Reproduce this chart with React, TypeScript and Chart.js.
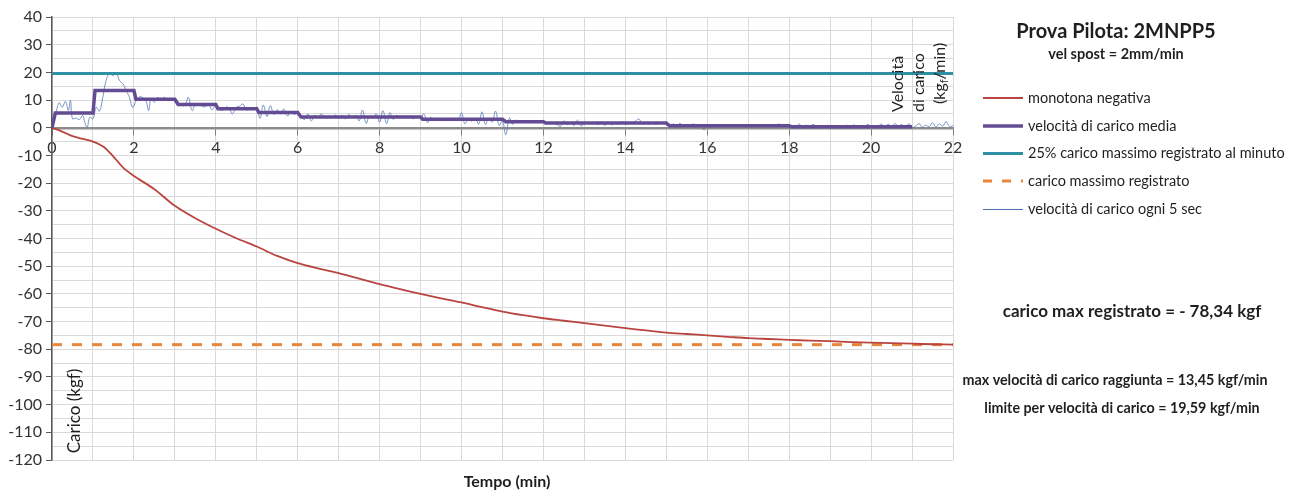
import React, { useEffect, useRef } from "react";
import { Chart, registerables } from "chart.js";

Chart.register(...registerables);

const FONT = "Lato, 'Open Sans', sans-serif";

// ---- data ----
const loadTimes = [0, 0.25, 0.5, 0.75, 1, 1.25, 1.5, 1.75, 2, 2.5, 3, 3.5, 4, 4.5, 5, 5.5, 6, 6.5, 7, 7.5, 8, 8.5, 9, 9.5, 10, 10.5, 11, 11.5, 12, 12.5, 13, 13.5, 14, 14.5, 15, 15.5, 16, 16.5, 17, 17.5, 18, 18.5, 19, 19.5, 20, 20.5, 21, 21.5, 22];
const loadValues = [0, -1.4, -3, -4, -5, -6.8, -10.4, -14.6, -17.4, -22.2, -28.2, -32.7, -36.5, -39.9, -42.9, -46.3, -48.9, -50.8, -52.5, -54.5, -56.5, -58.3, -60, -61.6, -63.1, -64.8, -66.4, -67.7, -68.8, -69.7, -70.6, -71.5, -72.4, -73.2, -74, -74.5, -75, -75.5, -76, -76.3, -76.6, -76.9, -77.1, -77.4, -77.6, -77.8, -78, -78.2, -78.34];

const meanTimes = [0, 0.08, 1.0, 1.05, 2.0, 2.05, 3.0, 3.08, 4.0, 4.05, 5.0, 5.05, 6.0, 6.08, 9.0, 9.05, 11.0, 11.08, 12.0, 12.05, 15.0, 15.08, 18.0, 18.05, 21.0];
const meanValues = [0, 5.3, 5.3, 13.45, 13.45, 10.3, 10.3, 8.4, 8.4, 6.9, 6.9, 5.5, 5.5, 3.9, 3.9, 3.1, 3.1, 2.2, 2.2, 1.7, 1.7, 0.7, 0.7, 0.4, 0.4];

const limitTimes = [0, 22];
const limitValues = [19.59, 19.59];

const maxLoadTimes = [0, 22];
const maxLoadValues = [-78.34, -78.34];

const velTimes = [
  0, 0.08, 0.17, 0.25, 0.33, 0.4, 0.45, 0.5, 0.58, 0.67, 0.75, 0.8, 0.86, 0.92, 1.0, 1.08, 1.16, 1.24, 1.32, 1.4, 1.49, 1.57, 1.65, 1.73, 1.81, 1.89, 1.97,
  2.06, 2.14, 2.22, 2.3, 2.36, 2.42, 2.5, 2.58, 2.66, 2.74, 2.82, 2.9, 3.0, 3.08, 3.16, 3.25, 3.33, 3.42, 3.5, 3.58, 3.66, 3.75, 3.83, 3.9,
  4.0, 4.08, 4.16, 4.25, 4.33, 4.4, 4.5, 4.58, 4.66, 4.75, 4.83, 4.92, 5.0, 5.08, 5.16, 5.25, 5.33, 5.42, 5.5, 5.58, 5.66, 5.75, 5.83, 5.92,
  6.0, 6.08, 6.17, 6.25, 6.33, 6.42, 6.5, 6.58, 6.67, 6.75, 6.83, 6.92, 7.0, 7.08, 7.17, 7.25, 7.33, 7.42, 7.5, 7.58, 7.67, 7.75, 7.83, 7.92,
  8.0, 8.08, 8.17, 8.25, 8.33, 8.42, 8.5, 8.58, 8.67, 8.75, 8.83, 8.92, 9.0, 9.08, 9.17, 9.25, 9.33, 9.42, 9.5, 9.58, 9.67, 9.75, 9.83, 9.92,
  10.0, 10.08, 10.17, 10.25, 10.33, 10.42, 10.5, 10.58, 10.67, 10.75, 10.83, 10.92, 11.0, 11.08, 11.17, 11.25, 11.33, 11.42, 11.5, 11.58, 11.67, 11.75, 11.83, 11.92,
  12.0, 12.08, 12.17, 12.25, 12.33, 12.42, 12.5, 12.58, 12.67, 12.75, 12.83, 12.92, 13.0, 13.08, 13.17, 13.25, 13.33, 13.42, 13.5, 13.58, 13.67, 13.75, 13.83, 13.92,
  14.0, 14.08, 14.17, 14.25, 14.33, 14.42, 14.5, 14.58, 14.67, 14.75, 14.83, 14.92, 15.0, 15.08, 15.17, 15.25, 15.33, 15.42, 15.5, 15.58, 15.67, 15.75, 15.83, 15.92,
  16.0, 16.08, 16.17, 16.25, 16.33, 16.42, 16.5, 16.58, 16.67, 16.75, 16.83, 16.92, 17.0, 17.08, 17.17, 17.25, 17.33, 17.42, 17.5, 17.58, 17.67, 17.75, 17.83, 17.92,
  18.0, 18.08, 18.17, 18.25, 18.33, 18.42, 18.5, 18.58, 18.67, 18.75, 18.83, 18.92, 19.0, 19.08, 19.17, 19.25, 19.33, 19.42, 19.5, 19.58, 19.67, 19.75, 19.83, 19.92,
  20.0, 20.08, 20.17, 20.25, 20.33, 20.42, 20.5, 20.58, 20.67, 20.75, 20.83, 20.92, 21.0, 21.08, 21.17, 21.25, 21.33, 21.42, 21.5, 21.58, 21.67, 21.75, 21.83, 21.92, 22.0,
];
const velValues = [
  0, 4, 9, 7.4, 9.5, 6.2, 9.9, 3.2, 3.5, 3, 4.4, 2, 0.2, 3.8, 3.2, 7.4, 6, 11, 17, 19.5, 18.9, 19.7, 17, 15.9, 13.5, 11, 7.4,
  9.9, 11.2, 10.8, 9.5, 6.2, 10.5, 9.2, 11, 10, 11, 10.2, 10.6, 9.9, 8.5, 8, 8.2, 11, 6.2, 8.4, 8.6, 7.8, 7.6, 8.8, 6.5,
  8, 6.8, 6.2, 7.5, 7, 5, 7.4, 7.8, 8.6, 6.4, 7, 6.5, 7.5, 3.4, 8.2, 4, 8, 4.8, 6.5, 5, 6.8, 4.2, 6, 4.8,
  5.5, 4, 3, 5, 2.5, 4.5, 3.8, 5, 3.6, 4.2, 3.5, 4.6, 3.4, 4.5, 3.2, 4.8, 3.8, 4.5, 2.5, 6.4, 1.6, 4.2, 3.6, 5,
  2, 6.2, 1.5, 5.5, 3, 4.5, 3.5, 4.2, 3.6, 4, 3.2, 4.2, 3.4, 5, 1.8, 3.8, 2.8, 3.5, 2.6, 3.2, 3, 2.8, 3.5, 2.5,
  5.5, 1.5, 3, 2.4, 3.5, 1.4, 5.8, 1.2, 3.5, 2, 6, 0.8, 2.5, -2.5, 3.5, 1.2, 2.8, 2, 2.4, 2, 2.6, 1.8, 2.4, 2,
  1.8, 1.4, 1.8, 1.5, 1.2, 0.5, 2.5, 1.2, 1.8, 0.8, 2.8, 0.6, 1.5, 1.8, 1.4, 1.6, 1.2, 2, 0.8, 2.2, 1, 1.8, 1.2, 2.2,
  1.2, 1.6, 1.8, 2.4, 3.2, 1.2, 1.8, 1.4, 1.6, 1.2, 1.8, 1.5, 1.6, 0.2, 1.4, 0.4, 1.6, 0.5, 1.2, 0.6, 1.4, 0.4, 1, -0.8,
  0.6, 0.2, 0.9, 0.4, 0.7, 0.3, 0.8, 0.5, 0.9, 0.4, 1, 0.3, 0.8, 0.5, 1.2, 0.2, 0.9, 0.6, 1, 0.4, 0.7, 1.4, 0.3, 1.2,
  0.2, 0.8, 0.5, 1.4, -0.3, 1, 0.2, 1.2, 0.5, 0.8, 0.1, 0.9, 0.4, 0.6, 0.2, 0.8, 0.5, 0.9, 0.3, 1, 0.4, 0.7, 0.2, 1.2,
  0.3, 0.8, 0.5, 1.4, 0.2, 1.3, 0.4, 1.5, 0.6, 1.2, 0.3, 1.4, 0.2, 0.5, 1.5, 0.2, 0.9, 0.4, 1.8, 0.3, 1.4, 0.6, 2.2, 0.4, 0.8,
];

// ---- text ----
const titleText = "Prova Pilota: 2MNPP5";
const subtitleText = "vel spost = 2mm/min";
const legendLabels = [
  "monotona negativa",
  "velocità di carico media",
  "25% carico massimo registrato al minuto",
  "carico massimo registrato",
  "velocità di carico ogni 5 sec",
];
const maxLoadNote = "carico max registrato = - 78,34 kgf";
const maxSpeedNote = "max velocità di carico raggiunta = 13,45 kgf/min";
const limitNote = "limite per velocità di carico = 19,59 kgf/min";
const xTitle = "Tempo (min)";
const yTitle = "Carico (kgf)";

// ---- styles ----
const RED = "#b8453f";
const PURPLE = "#634c94";
const TEAL = "#2f8fa3";
const ORANGE = "#e8863c";
const BLUE = "rgba(90,122,185,0.8)";
const TEXT = "#1f1f1f";
const legendStyles = [
  { color: RED, width: 1.8, dash: [] as number[] },
  { color: PURPLE, width: 3.5, dash: [] as number[] },
  { color: TEAL, width: 3, dash: [] as number[] },
  { color: ORANGE, width: 3, dash: [9, 10] },
  { color: "#4a6fb5", width: 1, dash: [] as number[] },
];

const pts = (xs: number[], ys: number[]) => xs.map((x, i) => ({ x, y: ys[i] }));

const textPlugin = {
  id: "customTexts",
  afterDraw(chart: any) {
    const c = chart.ctx as CanvasRenderingContext2D;
    c.save();
    c.textBaseline = "middle";
    c.textAlign = "center";
    c.fillStyle = TEXT;
    c.font = `bold 20px ${FONT}`;
    c.fillText(titleText, 1116, 32);
    c.font = `bold 14.5px ${FONT}`;
    c.fillText(subtitleText, 1116, 54);

    // legend
    const rows = [98, 126, 153.5, 181, 209.5];
    legendLabels.forEach((lab, i) => {
      const st = legendStyles[i];
      c.save();
      c.strokeStyle = st.color;
      c.lineWidth = st.width;
      c.setLineDash(st.dash);
      c.beginPath();
      c.moveTo(983, rows[i]);
      c.lineTo(1023, rows[i]);
      c.stroke();
      c.restore();
      c.textAlign = "left";
      c.fillStyle = TEXT;
      c.font = `14.5px ${FONT}`;
      c.fillText(lab, 1028, rows[i]);
    });

    // notes
    c.textAlign = "center";
    c.font = `bold 17px ${FONT}`;
    c.fillText(maxLoadNote, 1132, 312);
    c.font = `bold 14.3px ${FONT}`;
    c.fillText(maxSpeedNote, 1115, 380);
    c.fillText(limitNote, 1122, 408);

    // x title
    c.font = `bold 16px ${FONT}`;
    c.fillText(xTitle, 507, 482);

    // y title (rotated, inside plot)
    c.save();
    c.translate(75, 411);
    c.rotate(-Math.PI / 2);
    c.font = `17px ${FONT}`;
    c.fillStyle = TEXT;
    c.fillText(yTitle, 0, 0);
    c.restore();

    // right axis title (rotated, 3 lines)
    c.save();
    c.fillStyle = TEXT;
    c.textAlign = "left";
    const lineDraw = (x: number, yb: number, parts: { t: string; sub?: boolean }[]) => {
      c.save();
      c.translate(x, yb);
      c.rotate(-Math.PI / 2);
      let off = 0;
      parts.forEach((p) => {
        c.font = p.sub ? `11px ${FONT}` : `16px ${FONT}`;
        c.fillText(p.t, off, p.sub ? 4 : 0);
        off += c.measureText(p.t).width;
      });
      c.restore();
    };
    lineDraw(898, 112, [{ t: "Velocità" }]);
    lineDraw(919, 112, [{ t: "di carico" }]);
    lineDraw(940, 104, [{ t: "(kg" }, { t: "f", sub: true }, { t: "/min)" }]);
    c.restore();

    c.restore();
  },
};

export default function App() {
  const ref = useRef<HTMLCanvasElement>(null);
  useEffect(() => {
    const canvas = ref.current;
    if (!canvas) return;
    const chart = new Chart(canvas, {
      type: "line",
      data: {
        datasets: [
          {
            label: legendLabels[1],
            data: pts(meanTimes, meanValues),
            borderColor: PURPLE,
            borderWidth: 3.5,
            pointRadius: 0,
            tension: 0,
          },
          {
            label: legendLabels[2],
            data: pts(limitTimes, limitValues),
            borderColor: TEAL,
            borderWidth: 3,
            pointRadius: 0,
          },
          {
            label: legendLabels[0],
            data: pts(loadTimes, loadValues),
            borderColor: RED,
            borderWidth: 1.8,
            pointRadius: 0,
            tension: 0.3,
          },
          {
            label: legendLabels[3],
            data: pts(maxLoadTimes, maxLoadValues),
            borderColor: ORANGE,
            borderWidth: 3,
            borderDash: [10, 10],
            pointRadius: 0,
          },
          {
            label: legendLabels[4],
            data: pts(velTimes, velValues),
            borderColor: BLUE,
            borderWidth: 1,
            pointRadius: 0,
            tension: 0.4,
          },
        ],
      },
      options: {
        responsive: false,
        animation: false,
        events: [],
        layout: { padding: { left: 0, top: 17, right: 343, bottom: 34 } },
        plugins: { legend: { display: false }, tooltip: { enabled: false }, title: { display: false } },
        scales: {
          x: {
            type: "linear",
            position: { y: 0 } as any,
            min: 0,
            max: 22,
            ticks: {
              stepSize: 1,
              autoSkip: false,
              maxRotation: 0,
              padding: 4,
              color: "#333333",
              font: { family: FONT, size: 16 },
              callback: (v: any) => (Number(v) % 2 === 0 ? String(v) : ""),
            },
            grid: {
              color: "#d9d9d9",
              lineWidth: 1,
              tickLength: 6,
              tickColor: (ctx: any) => (ctx.tick && ctx.tick.value % 2 === 0 ? "#7f7f7f" : "rgba(0,0,0,0)"),
            },
            border: { display: true, color: "#8c8c8c", width: 2.5 },
          },
          y: {
            type: "linear",
            position: "left",
            min: -120,
            max: 40,
            afterFit: (s: any) => {
              s.width = 52;
            },
            ticks: {
              stepSize: 5,
              autoSkip: false,
              padding: 4,
              color: "#333333",
              font: { family: FONT, size: 16 },
              callback: (v: any) => (Number(v) % 10 === 0 ? String(v) : ""),
            },
            grid: {
              color: "#d9d9d9",
              lineWidth: 1,
              tickLength: 6,
              tickColor: (ctx: any) => (ctx.tick && ctx.tick.value % 10 === 0 ? "#595959" : "rgba(0,0,0,0)"),
            },
            border: { display: true, color: "#595959", width: 1.5 },
          },
        },
      },
      plugins: [textPlugin],
    });
    return () => chart.destroy();
  }, []);
  return (
    <div style={{ position: "fixed", left: 0, top: 0, width: 1296, height: 494, background: "#fff" }}>
      <canvas ref={ref} width={1296} height={494} style={{ display: "block" }} />
    </div>
  );
}
